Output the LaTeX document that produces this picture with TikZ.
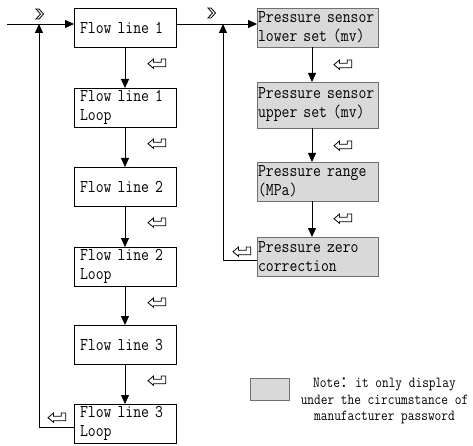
\documentclass[tikz,border=0pt]{standalone}
\usepackage{fontspec}
\usetikzlibrary{positioning,calc,arrows.meta}
\newfontfamily\boxfont[FakeStretch=0.85]{Latin Modern Mono}
\newfontfamily\cjk{Noto Sans CJK SC}
\definecolor{cfill}{HTML}{D9D9D9}
\definecolor{cedge}{HTML}{707070}
\tikzset{
  menu/.style={draw=black,line width=0.8pt,rectangle,text width=90pt,inner xsep=6pt,inner ysep=0pt,
    outer sep=0pt,minimum height=39pt,align=left,font=\boxfont\fontsize{18}{19}\selectfont},
  factory/.style={menu,draw=cedge,fill=cfill,text width=119pt,inner xsep=1pt},
  flow/.style={-{Triangle[length=9pt,width=8pt]},line width=0.8pt},
  enterkey/.pic={\draw[line width=0.8pt] (0,4.7) -- (5.5,0) -- (5.5,3.3) -- (13.3,3.3) -- (13.3,0)
    -- (17.7,0) -- (17.7,7.7) -- (5.5,7.7) -- (5.5,9.3) -- cycle;},
  nextkey/.pic={\draw[line width=0.8pt] (0,0) -- (3,0) -- (7.5,5) -- (3,10) -- (0,10) -- (4.5,5) -- cycle;}
}
\begin{document}
\begin{tikzpicture}[x=1pt,y=-1pt]
        \useasboundingbox (0,0) rectangle (473,446);
        % flow menu (left column)
        \node[menu,anchor=north west] (fl1) at (74,8) {Flow line 1};
        \node[menu,below=41pt of fl1] (fl1loop) {Flow line 1\\Loop};
        \node[menu,below=40pt of fl1loop] (fl2) {Flow line 2};
        \node[menu,below=41pt of fl2] (fl2loop) {Flow line 2\\Loop};
        \node[menu,below=39pt of fl2loop] (fl3) {Flow line 3};
        \node[menu,below=40pt of fl3] (fl3loop) {Flow line 3\\Loop};
        % pressure menu (right column)
        \node[factory,anchor=north west] (psl) at (257,8) {Pressure sensor\\lower set (mv)};
        \node[factory,below=35pt of psl,minimum height=46pt] (psu) {Pressure sensor\\upper set (mv)};
        \node[factory,below=34pt of psu] (prange) {Pressure range\\(MPa)};
        \node[factory,below=36pt of prange] (pzero) {Pressure zero\\correction};
        % legend
        \node[draw=cedge,fill=cfill,line width=0.8pt,minimum width=39pt,minimum height=22pt,anchor=north west] (key) at (250,378) {};
        \node[align=center,font=\boxfont\fontsize{15.3}{16.5}\selectfont] (note) at (384.5,401)
          {Note{\cjk ：}it only display\\under the circumstance of\\manufacturer password};
        % connectors
        \coordinate (in) at (7,24);
        \coordinate (backl) at (39,24);
        \coordinate (backr) at (223,24);
        \draw[flow] (in) -- ([yshift=3.5pt]fl1.west);
        \draw[flow] ([yshift=3.5pt]fl1.east) -- ([yshift=3.5pt]psl.west);
        \draw[flow] ([yshift=-3.5pt]fl3loop.west) -| (backl);
        \draw[flow] ([yshift=-3.5pt]pzero.west) -| (backr);
        \foreach \a/\b in {fl1/fl1loop,fl1loop/fl2,fl2/fl2loop,fl2loop/fl3,fl3/fl3loop}{
          \draw[flow] (\a.south) -- (\b.north);
          \pic at ($(\a.south)+(23,12)$) {enterkey};
        }
        \foreach \a/\b in {psl/psu,psu/prange,prange/pzero}{
          \draw[flow] ([xshift=-5.5pt]\a.south) -- ([xshift=-5.5pt]\b.north);
          \pic at ($(\a.south)+(16.5,13)$) {enterkey};
        }
        % keys
        \pic at ($(fl3loop.west)+(-26,-10.5)$) {enterkey};
        \pic at ($(pzero.west)+(-24,-9.5)$) {enterkey};
        \pic at (36,9) {nextkey};
        \pic at (208,8) {nextkey};
      \end{tikzpicture}
\end{document}
